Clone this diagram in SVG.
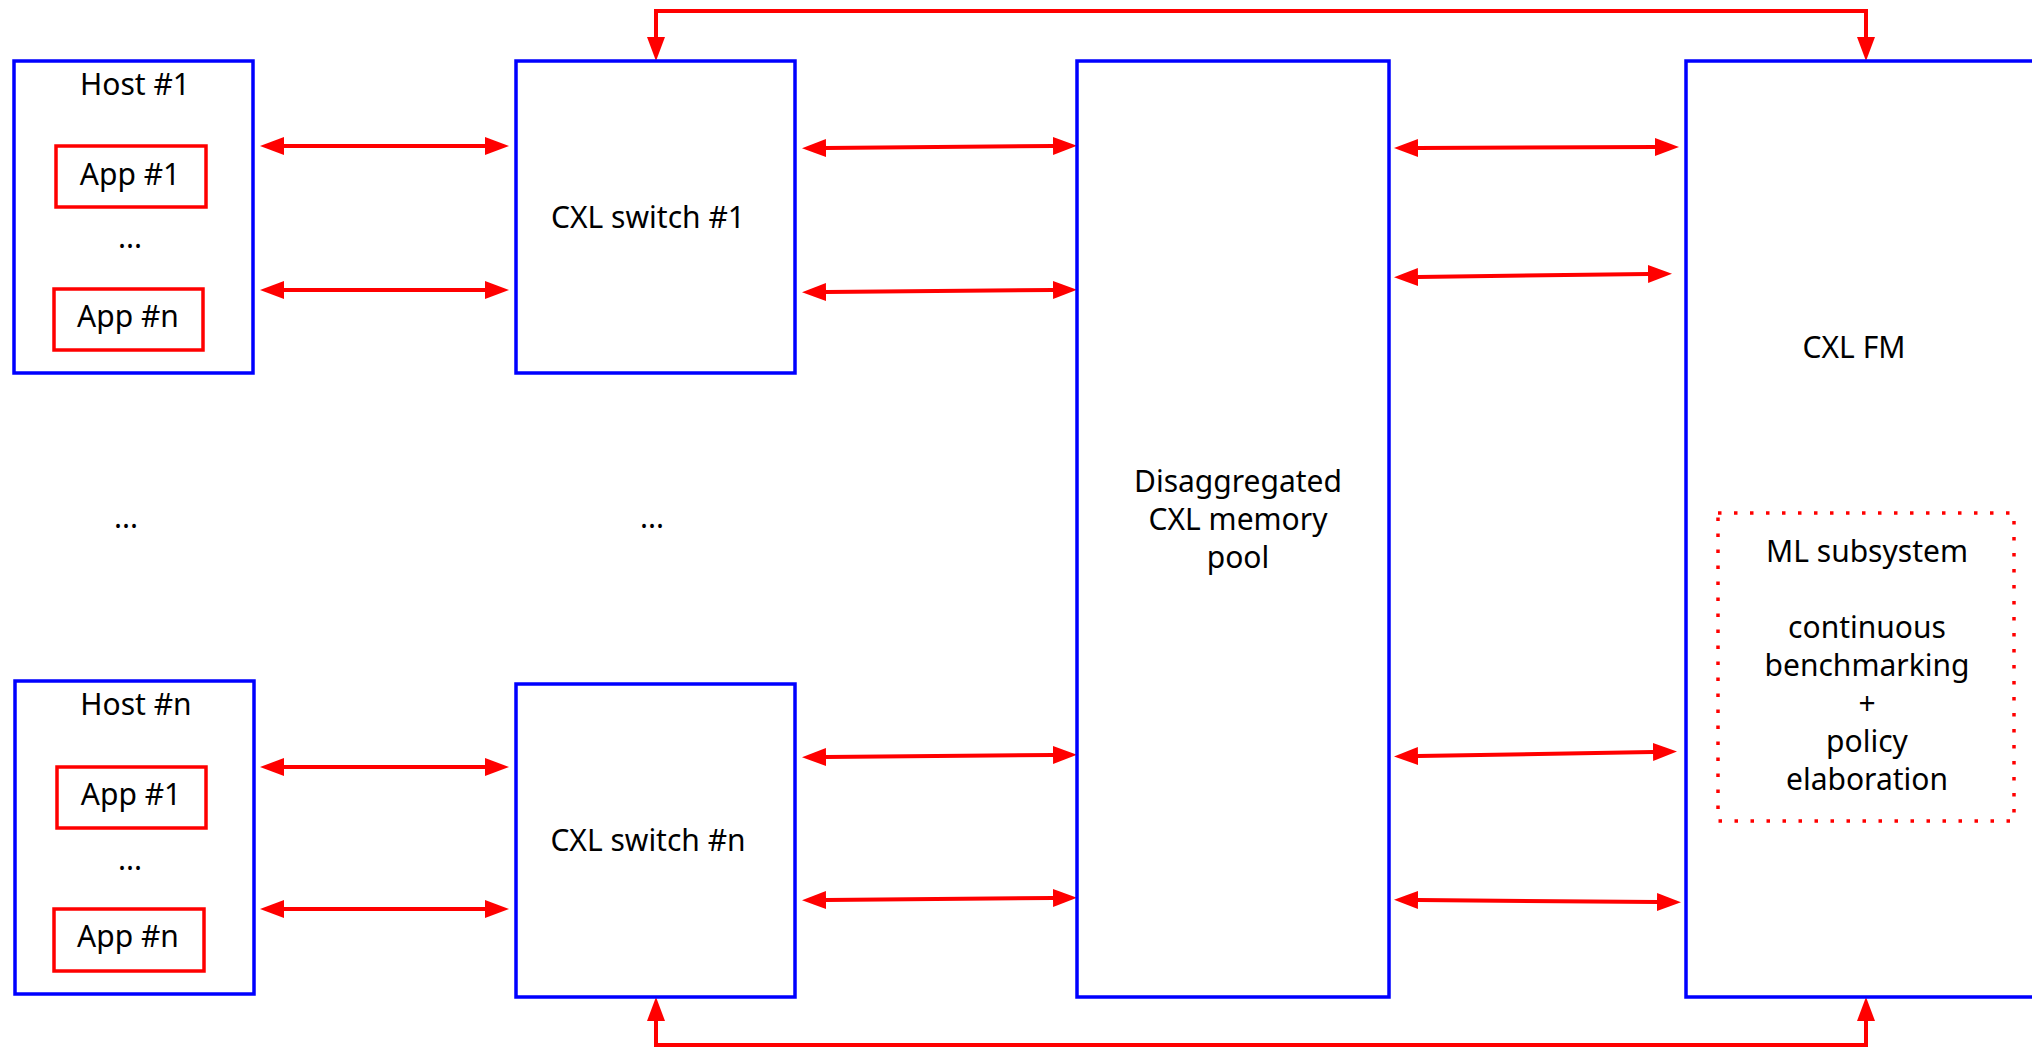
<svg xmlns="http://www.w3.org/2000/svg" width="2032" height="1049" viewBox="0 0 2032 1049">
<defs>
<marker id="ah" viewBox="0 0 24 18" refX="0" refY="9" markerWidth="24" markerHeight="18" markerUnits="userSpaceOnUse" orient="auto-start-reverse">
<path d="M0,0 L24,9 L0,18 z" fill="#ff0000"/>
</marker>
<style>
.blue{fill:#fff;stroke:#0000ff;stroke-width:3.5}
.app{fill:#fff;stroke:#ff0000;stroke-width:3.5}
.ml{fill:none;stroke:#ff0000;stroke-width:3.5;stroke-dasharray:3.5 12.5}
.c{fill:none;stroke:#ff0000;stroke-width:4;marker-start:url(#ah);marker-end:url(#ah)}
text{font-family:"Noto Sans","Open Sans",sans-serif;font-size:30px;fill:#000;text-anchor:middle}
</style>
</defs>
<rect width="2032" height="1049" fill="#fff"/>
<g id="connectors">
<path class="c" d="M656,37 V11 H1866 V37"/>
<path class="c" d="M656,1021 V1045 H1866 V1021"/>
<path class="c" d="M284,146 H485"/>
<path class="c" d="M284,290 H485"/>
<path class="c" d="M284,767 H485"/>
<path class="c" d="M284,909 H485"/>
<path class="c" d="M826,148 L1053,146"/>
<path class="c" d="M826,292 L1053,290"/>
<path class="c" d="M826,757 L1053,755"/>
<path class="c" d="M826,900 L1053,898"/>
<path class="c" d="M1418,148 L1655,147"/>
<path class="c" d="M1418,277 L1648,274"/>
<path class="c" d="M1418,756 L1653,752"/>
<path class="c" d="M1418,900 L1657,902"/>
</g>
<g id="host1">
<rect class="blue" x="14" y="61" width="239" height="312"/>
<text x="135" y="95">Host #1</text>
<text x="130" y="248">...</text>
</g>
<g id="host1-app1">
<rect class="app" x="56" y="146" width="150" height="61"/>
<text x="130" y="185">App #1</text>
</g>
<g id="host1-appn">
<rect class="app" x="54" y="289" width="149" height="61"/>
<text x="128" y="327">App #n</text>
</g>
<g id="hostn">
<rect class="blue" x="15" y="681" width="239" height="313"/>
<text x="136" y="715">Host #n</text>
<text x="130" y="870">...</text>
</g>
<g id="hostn-app1">
<rect class="app" x="57" y="767" width="149" height="61"/>
<text x="131" y="805">App #1</text>
</g>
<g id="hostn-appn">
<rect class="app" x="54" y="909" width="150" height="62"/>
<text x="128" y="947">App #n</text>
</g>
<g id="hosts-ellipsis"><text x="126" y="528">...</text></g>
<g id="switch1">
<rect class="blue" x="516" y="61" width="279" height="312"/>
<text x="648" y="228">CXL switch #1</text>
</g>
<g id="switches-ellipsis"><text x="652" y="528">...</text></g>
<g id="switchn">
<rect class="blue" x="516" y="684" width="279" height="313"/>
<text x="648" y="851">CXL switch #n</text>
</g>
<g id="pool">
<rect class="blue" x="1077" y="61" width="312" height="936"/>
<text x="1238" y="492">Disaggregated</text>
<text x="1238" y="530">CXL memory</text>
<text x="1238" y="568">pool</text>
</g>
<g id="fm">
<rect class="blue" x="1686" y="61" width="400" height="936"/>
<text x="1854" y="358">CXL FM</text>
</g>
<g id="ml">
<rect class="ml" x="1718" y="513" width="296" height="308"/>
<text x="1867" y="562">ML subsystem</text>
<text x="1867" y="638">continuous</text>
<text x="1867" y="676">benchmarking</text>
<text x="1867" y="714">+</text>
<text x="1867" y="752">policy</text>
<text x="1867" y="790">elaboration</text>
</g>
</svg>
